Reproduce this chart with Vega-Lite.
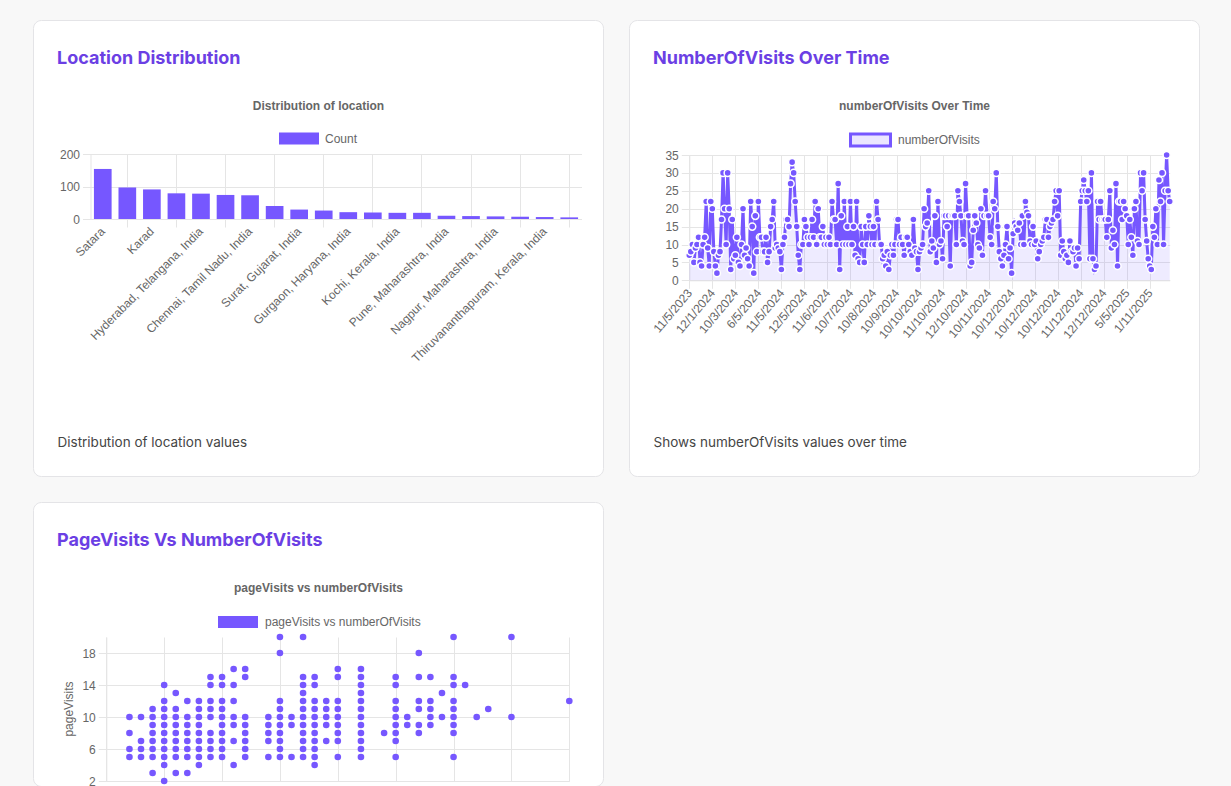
{
  "$schema": "https://vega.github.io/schema/vega-lite/v6.json",
  "background": "#f8f8f8",
  "padding": {"left": 32, "top": 19, "right": 32, "bottom": 0},
  "datasets": {
    "locations": [
      {"location": "Satara", "count": 154},
      {"location": "Pune", "count": 97},
      {"location": "Karad", "count": 91},
      {"location": "Mumbai, Maharashtra, India", "count": 79},
      {"location": "Hyderabad, Telangana, India", "count": 78},
      {"location": "Bengaluru, Karnataka, India", "count": 74},
      {"location": "Chennai, Tamil Nadu, India", "count": 73},
      {"location": "Ahmedabad, Gujarat, India", "count": 40},
      {"location": "Surat, Gujarat, India", "count": 29},
      {"location": "Noida, Uttar Pradesh, India", "count": 26},
      {"location": "Gurgaon, Haryana, India", "count": 21},
      {"location": "Jaipur, Rajasthan, India", "count": 20},
      {"location": "Kochi, Kerala, India", "count": 19},
      {"location": "Kolhapur, Maharashtra, India", "count": 19},
      {"location": "Pune, Maharashtra, India", "count": 10},
      {"location": "Nashik, Maharashtra, India", "count": 9},
      {"location": "Nagpur, Maharashtra, India", "count": 8},
      {"location": "Indore, Madhya Pradesh, India", "count": 7},
      {"location": "Thiruvananthapuram, Kerala, India", "count": 6},
      {"location": "Coimbatore, Tamil Nadu, India", "count": 5}
    ],
    "visits": [
      {"i":0,"numberOfVisits":7},{"i":1,"numberOfVisits":8},{"i":2,"numberOfVisits":10},{"i":3,"numberOfVisits":5},{"i":4,"numberOfVisits":9},{"i":5,"numberOfVisits":10},{"i":6,"numberOfVisits":12},{"i":7,"numberOfVisits":5},{"i":8,"numberOfVisits":4},{"i":9,"numberOfVisits":10},
      {"i":10,"numberOfVisits":12},{"i":11,"numberOfVisits":22},{"i":12,"numberOfVisits":9},{"i":13,"numberOfVisits":4},{"i":14,"numberOfVisits":22},{"i":15,"numberOfVisits":20},{"i":16,"numberOfVisits":8},{"i":17,"numberOfVisits":4},{"i":18,"numberOfVisits":2},{"i":19,"numberOfVisits":7},
      {"i":20,"numberOfVisits":8},{"i":21,"numberOfVisits":17},{"i":22,"numberOfVisits":30},{"i":23,"numberOfVisits":20},{"i":24,"numberOfVisits":10},{"i":25,"numberOfVisits":30},{"i":26,"numberOfVisits":20},{"i":27,"numberOfVisits":3},{"i":28,"numberOfVisits":17},{"i":29,"numberOfVisits":6},
      {"i":30,"numberOfVisits":7},{"i":31,"numberOfVisits":12},{"i":32,"numberOfVisits":5},{"i":33,"numberOfVisits":4},{"i":34,"numberOfVisits":10},{"i":35,"numberOfVisits":20},{"i":36,"numberOfVisits":7},{"i":37,"numberOfVisits":9},{"i":38,"numberOfVisits":6},{"i":39,"numberOfVisits":4},
      {"i":40,"numberOfVisits":22},{"i":41,"numberOfVisits":15},{"i":42,"numberOfVisits":2},{"i":43,"numberOfVisits":18},{"i":44,"numberOfVisits":8},{"i":45,"numberOfVisits":22},{"i":46,"numberOfVisits":12},{"i":47,"numberOfVisits":12},{"i":48,"numberOfVisits":8},{"i":49,"numberOfVisits":8},
      {"i":50,"numberOfVisits":12},{"i":51,"numberOfVisits":5},{"i":52,"numberOfVisits":8},{"i":53,"numberOfVisits":15},{"i":54,"numberOfVisits":17},{"i":55,"numberOfVisits":22},{"i":56,"numberOfVisits":9},{"i":57,"numberOfVisits":10},{"i":58,"numberOfVisits":9},{"i":59,"numberOfVisits":8},
      {"i":60,"numberOfVisits":3},{"i":61,"numberOfVisits":10},{"i":62,"numberOfVisits":12},{"i":63,"numberOfVisits":17},{"i":64,"numberOfVisits":17},{"i":65,"numberOfVisits":15},{"i":66,"numberOfVisits":27},{"i":67,"numberOfVisits":33},{"i":68,"numberOfVisits":30},{"i":69,"numberOfVisits":22},
      {"i":70,"numberOfVisits":15},{"i":71,"numberOfVisits":7},{"i":72,"numberOfVisits":3},{"i":73,"numberOfVisits":10},{"i":74,"numberOfVisits":10},{"i":75,"numberOfVisits":17},{"i":76,"numberOfVisits":15},{"i":77,"numberOfVisits":12},{"i":78,"numberOfVisits":10},{"i":79,"numberOfVisits":12},
      {"i":80,"numberOfVisits":17},{"i":81,"numberOfVisits":12},{"i":82,"numberOfVisits":22},{"i":83,"numberOfVisits":10},{"i":84,"numberOfVisits":20},{"i":85,"numberOfVisits":12},{"i":86,"numberOfVisits":12},{"i":87,"numberOfVisits":15},{"i":88,"numberOfVisits":10},{"i":89,"numberOfVisits":12},
      {"i":90,"numberOfVisits":10},{"i":91,"numberOfVisits":12},{"i":92,"numberOfVisits":10},{"i":93,"numberOfVisits":22},{"i":94,"numberOfVisits":17},{"i":95,"numberOfVisits":17},{"i":96,"numberOfVisits":10},{"i":97,"numberOfVisits":27},{"i":98,"numberOfVisits":3},{"i":99,"numberOfVisits":18},
      {"i":100,"numberOfVisits":10},{"i":101,"numberOfVisits":22},{"i":102,"numberOfVisits":10},{"i":103,"numberOfVisits":15},{"i":104,"numberOfVisits":10},{"i":105,"numberOfVisits":22},{"i":106,"numberOfVisits":10},{"i":107,"numberOfVisits":15},{"i":108,"numberOfVisits":7},{"i":109,"numberOfVisits":22},
      {"i":110,"numberOfVisits":6},{"i":111,"numberOfVisits":5},{"i":112,"numberOfVisits":15},{"i":113,"numberOfVisits":10},{"i":114,"numberOfVisits":5},{"i":115,"numberOfVisits":15},{"i":116,"numberOfVisits":10},{"i":117,"numberOfVisits":18},{"i":118,"numberOfVisits":15},{"i":119,"numberOfVisits":10},
      {"i":120,"numberOfVisits":15},{"i":121,"numberOfVisits":10},{"i":122,"numberOfVisits":22},{"i":123,"numberOfVisits":17},{"i":124,"numberOfVisits":10},{"i":125,"numberOfVisits":10},{"i":126,"numberOfVisits":6},{"i":127,"numberOfVisits":7},{"i":128,"numberOfVisits":4},{"i":129,"numberOfVisits":8},
      {"i":130,"numberOfVisits":3},{"i":131,"numberOfVisits":7},{"i":132,"numberOfVisits":10},{"i":133,"numberOfVisits":7},{"i":134,"numberOfVisits":10},{"i":135,"numberOfVisits":17},{"i":136,"numberOfVisits":17},{"i":137,"numberOfVisits":10},{"i":138,"numberOfVisits":12},{"i":139,"numberOfVisits":10},
      {"i":140,"numberOfVisits":7},{"i":141,"numberOfVisits":12},{"i":142,"numberOfVisits":12},{"i":143,"numberOfVisits":10},{"i":144,"numberOfVisits":8},{"i":145,"numberOfVisits":7},{"i":146,"numberOfVisits":17},{"i":147,"numberOfVisits":9},{"i":148,"numberOfVisits":8},{"i":149,"numberOfVisits":3},
      {"i":150,"numberOfVisits":8},{"i":151,"numberOfVisits":9},{"i":152,"numberOfVisits":10},{"i":153,"numberOfVisits":20},{"i":154,"numberOfVisits":15},{"i":155,"numberOfVisits":16},{"i":156,"numberOfVisits":25},{"i":157,"numberOfVisits":8},{"i":158,"numberOfVisits":11},{"i":159,"numberOfVisits":9},
      {"i":160,"numberOfVisits":18},{"i":161,"numberOfVisits":5},{"i":162,"numberOfVisits":22},{"i":163,"numberOfVisits":10},{"i":164,"numberOfVisits":11},{"i":165,"numberOfVisits":6},{"i":166,"numberOfVisits":18},{"i":167,"numberOfVisits":18},{"i":168,"numberOfVisits":15},{"i":169,"numberOfVisits":18},
      {"i":170,"numberOfVisits":4},{"i":171,"numberOfVisits":18},{"i":172,"numberOfVisits":18},{"i":173,"numberOfVisits":18},{"i":174,"numberOfVisits":10},{"i":175,"numberOfVisits":25},{"i":176,"numberOfVisits":22},{"i":177,"numberOfVisits":18},{"i":178,"numberOfVisits":11},{"i":179,"numberOfVisits":10},
      {"i":180,"numberOfVisits":27},{"i":181,"numberOfVisits":18},{"i":182,"numberOfVisits":18},{"i":183,"numberOfVisits":4},{"i":184,"numberOfVisits":5},{"i":185,"numberOfVisits":14},{"i":186,"numberOfVisits":18},{"i":187,"numberOfVisits":16},{"i":188,"numberOfVisits":10},{"i":189,"numberOfVisits":9},
      {"i":190,"numberOfVisits":20},{"i":191,"numberOfVisits":7},{"i":192,"numberOfVisits":18},{"i":193,"numberOfVisits":25},{"i":194,"numberOfVisits":18},{"i":195,"numberOfVisits":18},{"i":196,"numberOfVisits":12},{"i":197,"numberOfVisits":10},{"i":198,"numberOfVisits":22},{"i":199,"numberOfVisits":20},
      {"i":200,"numberOfVisits":30},{"i":201,"numberOfVisits":15},{"i":202,"numberOfVisits":8},{"i":203,"numberOfVisits":6},{"i":204,"numberOfVisits":4},{"i":205,"numberOfVisits":7},{"i":206,"numberOfVisits":10},{"i":207,"numberOfVisits":15},{"i":208,"numberOfVisits":6},{"i":209,"numberOfVisits":9},
      {"i":210,"numberOfVisits":2},{"i":211,"numberOfVisits":13},{"i":212,"numberOfVisits":16},{"i":213,"numberOfVisits":15},{"i":214,"numberOfVisits":14},{"i":215,"numberOfVisits":16},{"i":216,"numberOfVisits":10},{"i":217,"numberOfVisits":18},{"i":218,"numberOfVisits":10},{"i":219,"numberOfVisits":22},
      {"i":220,"numberOfVisits":19},{"i":221,"numberOfVisits":18},{"i":222,"numberOfVisits":11},{"i":223,"numberOfVisits":10},{"i":224,"numberOfVisits":15},{"i":225,"numberOfVisits":10},{"i":226,"numberOfVisits":11},{"i":227,"numberOfVisits":6},{"i":228,"numberOfVisits":8},{"i":229,"numberOfVisits":10},
      {"i":230,"numberOfVisits":11},{"i":231,"numberOfVisits":12},{"i":232,"numberOfVisits":17},{"i":233,"numberOfVisits":17},{"i":234,"numberOfVisits":12},{"i":235,"numberOfVisits":15},{"i":236,"numberOfVisits":16},{"i":237,"numberOfVisits":17},{"i":238,"numberOfVisits":22},{"i":239,"numberOfVisits":25},
      {"i":240,"numberOfVisits":18},{"i":241,"numberOfVisits":25},{"i":242,"numberOfVisits":7},{"i":243,"numberOfVisits":11},{"i":244,"numberOfVisits":8},{"i":245,"numberOfVisits":6},{"i":246,"numberOfVisits":7},{"i":247,"numberOfVisits":5},{"i":248,"numberOfVisits":11},{"i":249,"numberOfVisits":8},
      {"i":250,"numberOfVisits":8},{"i":251,"numberOfVisits":9},{"i":252,"numberOfVisits":4},{"i":253,"numberOfVisits":9},{"i":254,"numberOfVisits":6},{"i":255,"numberOfVisits":22},{"i":256,"numberOfVisits":25},{"i":257,"numberOfVisits":28},{"i":258,"numberOfVisits":25},{"i":259,"numberOfVisits":22},
      {"i":260,"numberOfVisits":25},{"i":261,"numberOfVisits":6},{"i":262,"numberOfVisits":30},{"i":263,"numberOfVisits":6},{"i":264,"numberOfVisits":3},{"i":265,"numberOfVisits":4},{"i":266,"numberOfVisits":22},{"i":267,"numberOfVisits":17},{"i":268,"numberOfVisits":22},{"i":269,"numberOfVisits":17},
      {"i":270,"numberOfVisits":17},{"i":271,"numberOfVisits":17},{"i":272,"numberOfVisits":12},{"i":273,"numberOfVisits":17},{"i":274,"numberOfVisits":25},{"i":275,"numberOfVisits":9},{"i":276,"numberOfVisits":14},{"i":277,"numberOfVisits":10},{"i":278,"numberOfVisits":27},{"i":279,"numberOfVisits":4},
      {"i":280,"numberOfVisits":22},{"i":281,"numberOfVisits":22},{"i":282,"numberOfVisits":17},{"i":283,"numberOfVisits":22},{"i":284,"numberOfVisits":20},{"i":285,"numberOfVisits":18},{"i":286,"numberOfVisits":10},{"i":287,"numberOfVisits":17},{"i":288,"numberOfVisits":12},{"i":289,"numberOfVisits":7},
      {"i":290,"numberOfVisits":20},{"i":291,"numberOfVisits":22},{"i":292,"numberOfVisits":11},{"i":293,"numberOfVisits":10},{"i":294,"numberOfVisits":30},{"i":295,"numberOfVisits":25},{"i":296,"numberOfVisits":30},{"i":297,"numberOfVisits":17},{"i":298,"numberOfVisits":11},{"i":299,"numberOfVisits":6},
      {"i":300,"numberOfVisits":4},{"i":301,"numberOfVisits":3},{"i":302,"numberOfVisits":15},{"i":303,"numberOfVisits":12},{"i":304,"numberOfVisits":20},{"i":305,"numberOfVisits":10},{"i":306,"numberOfVisits":28},{"i":307,"numberOfVisits":22},{"i":308,"numberOfVisits":30},{"i":309,"numberOfVisits":10},
      {"i":310,"numberOfVisits":25},{"i":311,"numberOfVisits":35},{"i":312,"numberOfVisits":25},{"i":313,"numberOfVisits":22}
    ],
    "pairs": [
      {"numberOfVisits":2,"pageVisits":10},{"numberOfVisits":2,"pageVisits":8},{"numberOfVisits":2,"pageVisits":6},{"numberOfVisits":2,"pageVisits":5},
      {"numberOfVisits":3,"pageVisits":10},{"numberOfVisits":3,"pageVisits":7},{"numberOfVisits":3,"pageVisits":6},{"numberOfVisits":3,"pageVisits":5},
      {"numberOfVisits":4,"pageVisits":11},{"numberOfVisits":4,"pageVisits":10},{"numberOfVisits":4,"pageVisits":9},{"numberOfVisits":4,"pageVisits":8},{"numberOfVisits":4,"pageVisits":7},{"numberOfVisits":4,"pageVisits":6},{"numberOfVisits":4,"pageVisits":5},{"numberOfVisits":4,"pageVisits":3},
      {"numberOfVisits":5,"pageVisits":14},{"numberOfVisits":5,"pageVisits":12},{"numberOfVisits":5,"pageVisits":11},{"numberOfVisits":5,"pageVisits":10},{"numberOfVisits":5,"pageVisits":9},{"numberOfVisits":5,"pageVisits":8},{"numberOfVisits":5,"pageVisits":7},{"numberOfVisits":5,"pageVisits":6},{"numberOfVisits":5,"pageVisits":5},{"numberOfVisits":5,"pageVisits":4},{"numberOfVisits":5,"pageVisits":2},
      {"numberOfVisits":6,"pageVisits":13},{"numberOfVisits":6,"pageVisits":11},{"numberOfVisits":6,"pageVisits":10},{"numberOfVisits":6,"pageVisits":9},{"numberOfVisits":6,"pageVisits":8},{"numberOfVisits":6,"pageVisits":7},{"numberOfVisits":6,"pageVisits":6},{"numberOfVisits":6,"pageVisits":5},{"numberOfVisits":6,"pageVisits":3},
      {"numberOfVisits":7,"pageVisits":12},{"numberOfVisits":7,"pageVisits":10},{"numberOfVisits":7,"pageVisits":9},{"numberOfVisits":7,"pageVisits":8},{"numberOfVisits":7,"pageVisits":7},{"numberOfVisits":7,"pageVisits":6},{"numberOfVisits":7,"pageVisits":5},{"numberOfVisits":7,"pageVisits":3},
      {"numberOfVisits":8,"pageVisits":12},{"numberOfVisits":8,"pageVisits":11},{"numberOfVisits":8,"pageVisits":10},{"numberOfVisits":8,"pageVisits":9},{"numberOfVisits":8,"pageVisits":8},{"numberOfVisits":8,"pageVisits":7},{"numberOfVisits":8,"pageVisits":6},{"numberOfVisits":8,"pageVisits":5},{"numberOfVisits":8,"pageVisits":4},
      {"numberOfVisits":9,"pageVisits":15},{"numberOfVisits":9,"pageVisits":14},{"numberOfVisits":9,"pageVisits":12},{"numberOfVisits":9,"pageVisits":11},{"numberOfVisits":9,"pageVisits":10},{"numberOfVisits":9,"pageVisits":8},{"numberOfVisits":9,"pageVisits":7},{"numberOfVisits":9,"pageVisits":6},{"numberOfVisits":9,"pageVisits":5},
      {"numberOfVisits":10,"pageVisits":15},{"numberOfVisits":10,"pageVisits":14},{"numberOfVisits":10,"pageVisits":12},{"numberOfVisits":10,"pageVisits":11},{"numberOfVisits":10,"pageVisits":10},{"numberOfVisits":10,"pageVisits":9},{"numberOfVisits":10,"pageVisits":8},{"numberOfVisits":10,"pageVisits":7},{"numberOfVisits":10,"pageVisits":6},{"numberOfVisits":10,"pageVisits":5},
      {"numberOfVisits":11,"pageVisits":16},{"numberOfVisits":11,"pageVisits":14},{"numberOfVisits":11,"pageVisits":12},{"numberOfVisits":11,"pageVisits":10},{"numberOfVisits":11,"pageVisits":9},{"numberOfVisits":11,"pageVisits":7},{"numberOfVisits":11,"pageVisits":4},
      {"numberOfVisits":12,"pageVisits":16},{"numberOfVisits":12,"pageVisits":15},{"numberOfVisits":12,"pageVisits":10},{"numberOfVisits":12,"pageVisits":9},{"numberOfVisits":12,"pageVisits":8},{"numberOfVisits":12,"pageVisits":7},{"numberOfVisits":12,"pageVisits":6},{"numberOfVisits":12,"pageVisits":5},
      {"numberOfVisits":14,"pageVisits":10},{"numberOfVisits":14,"pageVisits":9},{"numberOfVisits":14,"pageVisits":8},{"numberOfVisits":14,"pageVisits":7},{"numberOfVisits":14,"pageVisits":5},
      {"numberOfVisits":15,"pageVisits":20},{"numberOfVisits":15,"pageVisits":18},{"numberOfVisits":15,"pageVisits":12},{"numberOfVisits":15,"pageVisits":11},{"numberOfVisits":15,"pageVisits":10},{"numberOfVisits":15,"pageVisits":9},{"numberOfVisits":15,"pageVisits":8},{"numberOfVisits":15,"pageVisits":7},{"numberOfVisits":15,"pageVisits":6},{"numberOfVisits":15,"pageVisits":5},
      {"numberOfVisits":16,"pageVisits":10},{"numberOfVisits":16,"pageVisits":9},{"numberOfVisits":16,"pageVisits":5},
      {"numberOfVisits":17,"pageVisits":20},{"numberOfVisits":17,"pageVisits":15},{"numberOfVisits":17,"pageVisits":14},{"numberOfVisits":17,"pageVisits":13},{"numberOfVisits":17,"pageVisits":12},{"numberOfVisits":17,"pageVisits":11},{"numberOfVisits":17,"pageVisits":10},{"numberOfVisits":17,"pageVisits":9},{"numberOfVisits":17,"pageVisits":8},{"numberOfVisits":17,"pageVisits":7},{"numberOfVisits":17,"pageVisits":6},{"numberOfVisits":17,"pageVisits":5},
      {"numberOfVisits":18,"pageVisits":15},{"numberOfVisits":18,"pageVisits":14},{"numberOfVisits":18,"pageVisits":12},{"numberOfVisits":18,"pageVisits":11},{"numberOfVisits":18,"pageVisits":10},{"numberOfVisits":18,"pageVisits":9},{"numberOfVisits":18,"pageVisits":8},{"numberOfVisits":18,"pageVisits":7},{"numberOfVisits":18,"pageVisits":6},{"numberOfVisits":18,"pageVisits":5},{"numberOfVisits":18,"pageVisits":4},
      {"numberOfVisits":19,"pageVisits":12},{"numberOfVisits":19,"pageVisits":11},{"numberOfVisits":19,"pageVisits":10},{"numberOfVisits":19,"pageVisits":9},{"numberOfVisits":19,"pageVisits":7},
      {"numberOfVisits":20,"pageVisits":16},{"numberOfVisits":20,"pageVisits":15},{"numberOfVisits":20,"pageVisits":12},{"numberOfVisits":20,"pageVisits":11},{"numberOfVisits":20,"pageVisits":10},{"numberOfVisits":20,"pageVisits":9},{"numberOfVisits":20,"pageVisits":8},{"numberOfVisits":20,"pageVisits":7},{"numberOfVisits":20,"pageVisits":5},
      {"numberOfVisits":22,"pageVisits":16},{"numberOfVisits":22,"pageVisits":15},{"numberOfVisits":22,"pageVisits":14},{"numberOfVisits":22,"pageVisits":13},{"numberOfVisits":22,"pageVisits":12},{"numberOfVisits":22,"pageVisits":11},{"numberOfVisits":22,"pageVisits":10},{"numberOfVisits":22,"pageVisits":9},{"numberOfVisits":22,"pageVisits":8},{"numberOfVisits":22,"pageVisits":7},{"numberOfVisits":22,"pageVisits":6},{"numberOfVisits":22,"pageVisits":5},
      {"numberOfVisits":24,"pageVisits":8},
      {"numberOfVisits":25,"pageVisits":15},{"numberOfVisits":25,"pageVisits":14},{"numberOfVisits":25,"pageVisits":12},{"numberOfVisits":25,"pageVisits":11},{"numberOfVisits":25,"pageVisits":10},{"numberOfVisits":25,"pageVisits":9},{"numberOfVisits":25,"pageVisits":8},{"numberOfVisits":25,"pageVisits":7},{"numberOfVisits":25,"pageVisits":5},
      {"numberOfVisits":26,"pageVisits":10},{"numberOfVisits":26,"pageVisits":9},
      {"numberOfVisits":27,"pageVisits":18},{"numberOfVisits":27,"pageVisits":15},{"numberOfVisits":27,"pageVisits":12},{"numberOfVisits":27,"pageVisits":11},{"numberOfVisits":27,"pageVisits":9},{"numberOfVisits":27,"pageVisits":8},
      {"numberOfVisits":28,"pageVisits":15},{"numberOfVisits":28,"pageVisits":12},{"numberOfVisits":28,"pageVisits":11},{"numberOfVisits":28,"pageVisits":10},{"numberOfVisits":28,"pageVisits":9},
      {"numberOfVisits":29,"pageVisits":13},{"numberOfVisits":29,"pageVisits":10},
      {"numberOfVisits":30,"pageVisits":20},{"numberOfVisits":30,"pageVisits":15},{"numberOfVisits":30,"pageVisits":14},{"numberOfVisits":30,"pageVisits":12},{"numberOfVisits":30,"pageVisits":11},{"numberOfVisits":30,"pageVisits":10},{"numberOfVisits":30,"pageVisits":9},{"numberOfVisits":30,"pageVisits":8},{"numberOfVisits":30,"pageVisits":5},
      {"numberOfVisits":31,"pageVisits":14},
      {"numberOfVisits":32,"pageVisits":10},
      {"numberOfVisits":33,"pageVisits":11},
      {"numberOfVisits":35,"pageVisits":20},{"numberOfVisits":35,"pageVisits":10},
      {"numberOfVisits":40,"pageVisits":12}
    ]
  },
  "config": {
    "font": "Liberation Sans",
    "view": {"fill": "#ffffff", "stroke": "#e4e4e7", "strokeWidth": 1, "cornerRadius": 8},
    "axis": {
      "labelFont": "Liberation Sans", "labelFontSize": 12, "labelColor": "#666666",
      "gridColor": "#e5e5e5", "domainColor": "#e5e5e5", "tickColor": "#e5e5e5",
      "tickSize": 8, "labelPadding": 3,
      "titleFont": "Liberation Sans", "titleFontSize": 12, "titleColor": "#666666",
      "labelOverlap": false, "labelFlush": false, "labelBound": false
    },
    "legend": {
      "orient": "none", "title": null, "padding": 0, "offset": 0,
      "labelFont": "Liberation Sans", "labelFontSize": 12, "labelColor": "#666666", "labelOffset": 6,
      "symbolType": "M-1,-0.3H1V0.3H-1Z", "symbolSize": 1600
    }
  },
  "resolve": {"scale": {"color": "independent"}, "legend": {"color": "independent"}},
  "columns": 2,
  "spacing": 26,
  "bounds": "flush",
  "concat": [
    {
      "width": 570,
      "height": 456,
      "title": {"text": "Location Distribution", "font": "Inter", "fontSize": 18, "fontWeight": 700, "color": "#6b3fe4", "anchor": "start", "frame": "group", "offset": 0, "dx": 24, "dy": 62, "baseline": "alphabetic"},
      "data": {"name": "locations"},
      "layer": [
        {
          "mark": {"type": "bar", "color": "#7657ff"},
          "encoding": {
            "x": {
              "field": "location", "type": "nominal", "sort": null,
              "scale": {"range": [57.5, 548.5], "paddingInner": 0.28, "paddingOuter": 0.14},
              "axis": {
                "orient": "bottom", "offset": -257, "bandPosition": 0.5, "grid": false,
                "labelAngle": -45, "labelAlign": "right", "labelBaseline": "middle", "labelPadding": 2, "labelOverlap": false, "labelLimit": 260,
                "labelExpr": "indexof(['Satara','Karad','Hyderabad, Telangana, India','Chennai, Tamil Nadu, India','Surat, Gujarat, India','Gurgaon, Haryana, India','Kochi, Kerala, India','Pune, Maharashtra, India','Nagpur, Maharashtra, India','Thiruvananthapuram, Kerala, India'], datum.value) >= 0 ? datum.value : ''",
                "tickOpacity": {"condition": {"test": "indexof(['Satara','Karad','Hyderabad, Telangana, India','Chennai, Tamil Nadu, India','Surat, Gujarat, India','Gurgaon, Haryana, India','Kochi, Kerala, India','Pune, Maharashtra, India','Nagpur, Maharashtra, India','Thiruvananthapuram, Kerala, India'], datum.value) < 0", "value": 1}, "value": 0},
                "title": "Distribution of location values",
                "titleX": 24, "titleY": 227, "titleAngle": 0, "titleAlign": "left", "titleBaseline": "alphabetic",
                "titleFont": "Inter", "titleFontSize": 13.5, "titleFontWeight": "normal", "titleColor": "#454545"
              }
            },
            "y": {
              "field": "count", "type": "quantitative",
              "scale": {"domain": [0, 200], "range": [199, 134], "nice": false},
              "axis": {
                "offset": -57.5, "values": [0, 100, 200], "grid": true,
                "title": "Distribution of location",
                "titleX": 227.5, "titleY": 89, "titleAngle": 0, "titleAlign": "center", "titleBaseline": "alphabetic",
                "titleFontWeight": "bold"
              }
            },
            "color": {
              "datum": "Count", "type": "nominal",
              "scale": {"range": ["#7657ff"]},
              "legend": {"legendX": 246, "legendY": 98.5, "encode": {"symbols": {"update": {"strokeWidth": {"value": 0}, "opacity": {"value": 1}}}}}
            }
          }
        },
        {
          "mark": {"type": "bar", "opacity": 0},
          "encoding": {
            "x": {
              "field": "location", "type": "nominal", "sort": null,
              "axis": {
                "orient": "top", "offset": 0, "bandPosition": 0.5, "grid": true,
                "labels": false, "ticks": false, "domain": false, "title": null,
                "gridOpacity": {"condition": {"test": "indexof(['Satara','Karad','Hyderabad, Telangana, India','Chennai, Tamil Nadu, India','Surat, Gujarat, India','Gurgaon, Haryana, India','Kochi, Kerala, India','Pune, Maharashtra, India','Nagpur, Maharashtra, India','Thiruvananthapuram, Kerala, India'], datum.value) < 0", "value": 1}, "value": 0}
              }
            },
            "y": {"field": "count", "type": "quantitative"}
          }
        }
      ],
      "resolve": {"axis": {"x": "independent"}}
    },
    {
      "width": 570,
      "height": 456,
      "title": {"text": "NumberOfVisits Over Time", "font": "Inter", "fontSize": 18, "fontWeight": 700, "color": "#6b3fe4", "anchor": "start", "frame": "group", "offset": 0, "dx": 24, "dy": 62, "baseline": "alphabetic"},
      "data": {"name": "visits"},
      "layer": [
        {
          "mark": {"type": "area", "color": "#7657ff", "opacity": 0.12},
          "encoding": {
            "x": {
              "field": "i", "type": "quantitative",
              "scale": {"domain": [0, 313], "range": [60.3, 540.7], "nice": false, "zero": false},
              "axis": {
                "orient": "bottom", "offset": -195.7, "grid": false, "labelOverlap": false, "tickCount": 40,
                "values": [0, 15, 30, 45, 60, 75, 90, 105, 120, 135, 150, 165, 180, 195, 210, 225, 240, 255, 270, 285, 300],
                "labelExpr": "['11/5/2023','12/1/2024','10/3/2024','6/5/2024','11/5/2024','12/5/2024','11/6/2024','10/7/2024','10/8/2024','10/9/2024','10/10/2024','11/10/2024','12/10/2024','10/11/2024','10/12/2024','10/12/2024','10/12/2024','11/12/2024','12/12/2024','5/5/2025','1/11/2025'][round(datum.value / 15)]",
                "labelAngle": -50, "labelAlign": "right", "labelBaseline": "middle", "labelPadding": 2,
                "title": "Shows numberOfVisits values over time",
                "titleX": 24, "titleY": 165.7, "titleAngle": 0, "titleAlign": "left", "titleBaseline": "alphabetic",
                "titleFont": "Inter", "titleFontSize": 13.5, "titleFontWeight": "normal", "titleColor": "#454545"
              }
            },
            "y": {
              "field": "numberOfVisits", "type": "quantitative",
              "scale": {"domain": [0, 35], "range": [260.3, 135], "nice": false},
              "axis": {
                "offset": -60.3, "values": [0, 5, 10, 15, 20, 25, 30, 35], "grid": true, "tickCount": 40,
                "title": "numberOfVisits Over Time",
                "titleX": 224.7, "titleY": 89, "titleAngle": 0, "titleAlign": "center", "titleBaseline": "alphabetic",
                "titleFontWeight": "bold"
              }
            }
          }
        },
        {
          "mark": {"type": "line", "strokeWidth": 3},
          "encoding": {
            "x": {"field": "i", "type": "quantitative", "axis": null},
            "y": {"field": "numberOfVisits", "type": "quantitative"},
            "color": {
              "datum": "numberOfVisits", "type": "nominal",
              "scale": {"range": ["#7657ff"]},
              "legend": {"legendX": 220, "legendY": 98.5, "encode": {"symbols": {"update": {"fill": {"value": "#ebe6ff"}, "stroke": {"value": "#7657ff"}, "strokeWidth": {"value": 3}, "opacity": {"value": 1}}}}}
            }
          }
        },
        {
          "mark": {"type": "point", "filled": true, "size": 50, "color": "#7657ff", "stroke": "#ffffff", "strokeWidth": 1.5, "opacity": 1},
          "encoding": {
            "x": {
              "field": "i", "type": "quantitative",
              "axis": {
                "orient": "top", "offset": 0, "grid": true, "tickCount": 40,
                "values": [0, 15, 30, 45, 60, 75, 90, 105, 120, 135, 150, 165, 180, 195, 210, 225, 240, 255, 270, 285, 300],
                "labels": false, "ticks": false, "domain": false, "title": null
              }
            },
            "y": {"field": "numberOfVisits", "type": "quantitative"}
          }
        }
      ],
      "resolve": {"axis": {"x": "independent"}}
    },
    {
      "width": 570,
      "height": 284,
      "title": {"text": "PageVisits Vs NumberOfVisits", "font": "Inter", "fontSize": 18, "fontWeight": 700, "color": "#6b3fe4", "anchor": "start", "frame": "group", "offset": 0, "dx": 24, "dy": 62, "baseline": "alphabetic"},
      "data": {"name": "pairs"},
      "mark": {"type": "point", "filled": true, "size": 44, "opacity": 1},
      "encoding": {
        "x": {
          "field": "numberOfVisits", "type": "quantitative",
          "scale": {"domain": [0, 40], "range": [73.3, 536.3], "nice": false, "zero": false},
          "axis": {
            "orient": "top", "offset": 0, "grid": true, "labels": false, "ticks": false, "domain": false, "tickCount": 40,
            "values": [0, 5, 10, 15, 20, 25, 30, 35, 40],
            "title": "pageVisits vs numberOfVisits",
            "titleX": 285, "titleY": 89, "titleAngle": 0, "titleAlign": "center", "titleBaseline": "alphabetic",
            "titleFontWeight": "bold"
          }
        },
        "y": {
          "field": "pageVisits", "type": "quantitative",
          "scale": {"domain": [2, 20], "range": [279, 135], "nice": false, "zero": false},
          "axis": {
            "offset": -73.3, "values": [2, 6, 10, 14, 18], "grid": true,
            "title": "pageVisits",
            "titleX": -37.6, "titleY": 206.5, "titleAngle": -90, "titleAlign": "center", "titleBaseline": "middle",
            "titleFontWeight": "normal"
          }
        },
        "color": {
          "datum": "pageVisits vs numberOfVisits", "type": "nominal",
          "scale": {"range": ["#7657ff"]},
          "legend": {"legendX": 184, "legendY": 99, "encode": {"symbols": {"update": {"strokeWidth": {"value": 0}, "opacity": {"value": 1}}}}}
        }
      }
    }
  ]
}
